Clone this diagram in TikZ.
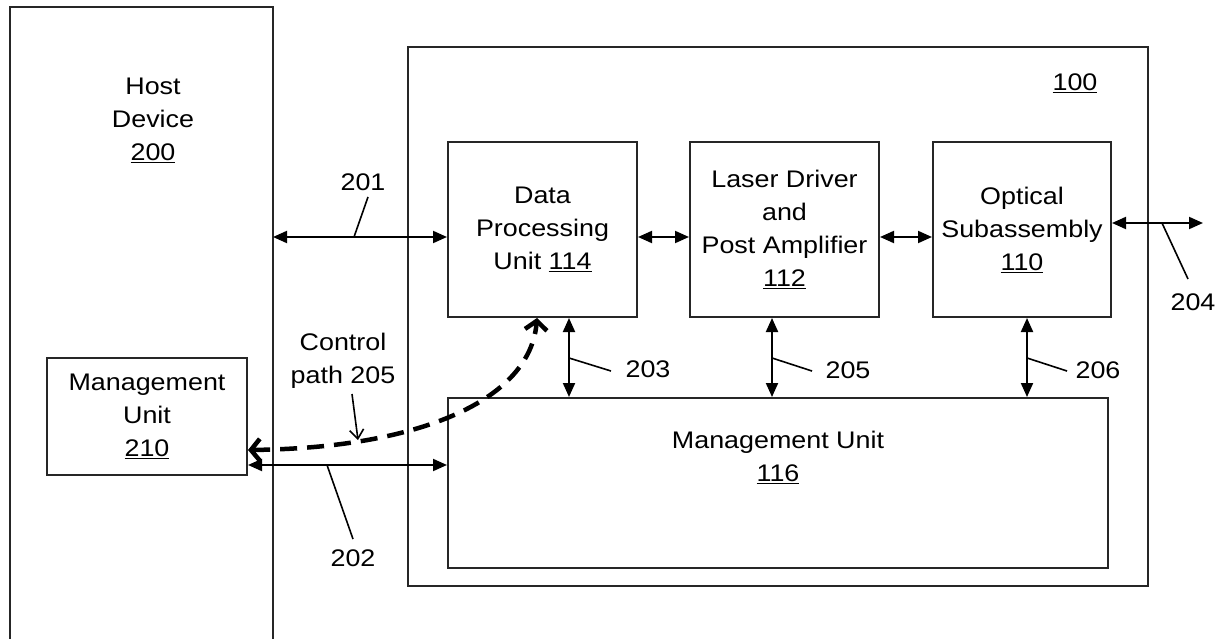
\documentclass[tikz,border=0pt]{standalone}
\usepackage{fontspec}
\setmainfont[FakeStretch=1.12]{Liberation Sans}
\usetikzlibrary{arrows.meta}
\begin{document}
\begin{tikzpicture}[x=1pt,y=-1pt,
  box/.style={draw=black!85, line width=2pt, inner sep=0pt, align=center, font=\fontsize{24}{33}\selectfont},
  txt/.style={inner sep=0pt, align=center, font=\fontsize{24}{33}\selectfont},
  dbl/.style={line width=2pt, {Triangle[length=14pt,width=12pt]}-{Triangle[length=14pt,width=12pt]}},
  lead/.style={line width=1.6pt},
  ctrl/.style={line width=4.5pt, dash pattern=on 17pt off 10pt, {Straight Barb[length=9pt,width=22pt]}-{Straight Barb[length=9pt,width=22pt]}},
]
\useasboundingbox (0,0) rectangle (1223,639);
% host device (open at the bottom)
\draw[line width=2pt, draw=black!85] (10,645) -- (10,7) -- (273,7) -- (273,645);
\node[txt] (host) at (153,120) {Host\\Device\\\underline{200}};
\node[box, minimum width=200pt, minimum height=117pt] (mu210) at (147,416.5) {Management\\Unit\\\underline{210}};
% module 100
\node[box, minimum width=740pt, minimum height=539pt] (mod) at (778,316.5) {};
\node[txt] (l100) at (1075,83) {\underline{100}};
\node[box, minimum width=189pt, minimum height=175pt] (dp) at (542.5,229.5) {Data\\Processing\\Unit \underline{114}};
\node[box, minimum width=189pt, minimum height=175pt] (ld) at (784.5,229.5) {Laser Driver\\and\\Post Amplifier\\\underline{112}};
\node[box, minimum width=178pt, minimum height=175pt] (os) at (1022,229.5) {Optical\\Subassembly\\\underline{110}};
\node[box, minimum width=660pt, minimum height=170pt] (mu116) at (778,483) {};
\node[txt] (mu116t) at (778,457) {Management Unit\\\underline{116}};
% helper rows
\coordinate (r237) at (0,237);
\coordinate (r223) at (0,223);
\coordinate (r465) at (0,465);
\coordinate (r450) at (0,450);
\coordinate (hR) at (273,237);
\coordinate (ext204) at (1203,223);
% horizontal connectors
\draw[dbl] (hR) -- (hR -| dp.west);
\draw[dbl] (dp.east |- r237) -- (ld.west |- r237);
\draw[dbl] (ld.east |- r237) -- (os.west |- r237);
\draw[dbl] (os.east |- r223) -- (ext204);
\draw[dbl] (mu210.east |- r465) -- (mu116.west |- r465);
% vertical connectors
\coordinate (c203) at (569,0);
\coordinate (c205) at (772,0);
\coordinate (c206) at (1027,0);
\draw[dbl] (c203 |- dp.south) -- (c203 |- mu116.north);
\draw[dbl] (c205 |- ld.south) -- (c205 |- mu116.north);
\draw[dbl] (c206 |- os.south) -- (c206 |- mu116.north);
% labels and leaders
\node[txt] (l201) at (363,182) {201};
\coordinate (p201a) at (368,197); \coordinate (p201b) at (354,237);
\draw[lead] (p201a) -- (p201b);
\node[txt] (l204) at (1193,302) {204};
\coordinate (p204a) at (1162,223); \coordinate (p204b) at (1188,279);
\draw[lead] (p204a) -- (p204b);
\node[txt] (l203) at (648,369) {203};
\coordinate (p203a) at (569,358); \coordinate (p203b) at (611,371);
\draw[lead] (p203a) -- (p203b);
\node[txt] (l205) at (848,370) {205};
\coordinate (p205a) at (772,358); \coordinate (p205b) at (812,371);
\draw[lead] (p205a) -- (p205b);
\node[txt] (l206) at (1098,370) {206};
\coordinate (p206a) at (1027,358); \coordinate (p206b) at (1067,371);
\draw[lead] (p206a) -- (p206b);
\node[txt] (l202) at (353,558) {202};
\coordinate (p202a) at (327,465); \coordinate (p202b) at (353,539);
\draw[lead] (p202a) -- (p202b);
% control path
\coordinate (cpa) at (537,0);
\draw[ctrl] (mu210.east |- r450) .. controls (420,448) and (530,400) .. (cpa |- dp.south);
\node[txt] (cp) at (343,361) {Control\\path 205};
\coordinate (cpp1) at (352,394); \coordinate (cpp2) at (358,440);
\draw[lead, -{Straight Barb[length=9pt,width=14pt]}] (cpp1) -- (cpp2);
\end{tikzpicture}
\end{document}
